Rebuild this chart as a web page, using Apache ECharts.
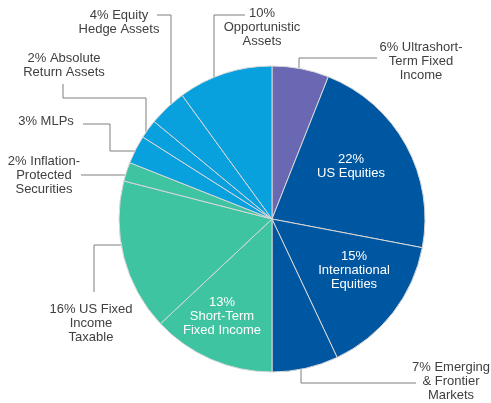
<!DOCTYPE html>
<html>
<head>
<meta charset="utf-8">
<script src="https://cdn.jsdelivr.net/npm/echarts@6/dist/echarts.min.js"></script>
<style>
  html, body { margin: 0; padding: 0; background: #fff; }
  #chart { width: 491px; height: 403px; }
</style>
</head>
<body>
<div id="chart"></div>
<script>
// slices, clockwise from 12 o'clock
var labels = [
    '6% Ultrashort-\nTerm Fixed\nIncome',
    '22%\nUS Equities',
    '15%\nInternational\nEquities',
    '7% Emerging\n& Frontier\nMarkets',
    '13%\nShort-Term\nFixed Income',
    '16% US Fixed\nIncome\nTaxable',
    '2% Inflation-\nProtected\nSecurities',
    '3% MLPs',
    '2% Absolute\nReturn Assets',
    '4% Equity\nHedge Assets',
    '10%\nOpportunistic\nAssets'
];
var values = [6, 22, 15, 7, 13, 16, 2, 3, 2, 4, 10];
var colors = ['#6a68b3', '#0057a1', '#0057a1', '#0057a1', '#3ec4a0', '#3ec4a0',
    '#3ec4a0', '#09a0de', '#09a0de', '#09a0de', '#09a0de'];
var inside = [false, true, true, false, true, false, false, false, false, false, false];

var cx = 272, cy = 219, R = 153;

// where the labels sit
var labelPos = [[421, 61], [351, 166], [354, 270], [451, 381], [222, 316], [91, 323],
    [44, 175], [46, 121], [64, 65], [119, 22], [262, 27]];

function edgeX(x, dir) { return [x, cy + dir * Math.sqrt(R * R - (x - cx) * (x - cx))]; }
function edgeY(y, dir) { return [cx + dir * Math.sqrt(R * R - (y - cy) * (y - cy)), y]; }

// elbow leader lines
var routes = {
    0: [[377, 58], [299, 58], edgeX(299, -1)],
    3: [[416, 383], [301, 383], edgeX(301, 1)],
    5: [[94, 292], [94, 245], edgeY(245, -1)],
    6: [[81, 175], edgeY(175, -1)],
    7: [[83, 124], [110, 124], [110, 151], edgeY(151, -1)],
    8: [[63, 84], [63, 98], [146, 98], edgeX(146, -1)],
    9: [[157, 15], [171, 15], edgeX(171, -1)],
    10: [[245, 15], [214, 15], edgeX(214, -1)]
};

var chartDom = document.getElementById('chart');
var myChart = echarts.init(chartDom);

var data = values.map(function (v, i) {
    return {
        value: v,
        name: labels[i],
        itemStyle: { color: colors[i] },
        label: { color: inside[i] ? '#ffffff' : '#404040' },
        labelLine: { show: !inside[i] }
    };
});

var option = {
    animation: false,
    series: [{
        type: 'pie',
        center: [cx, cy],
        radius: R,
        startAngle: 90,
        clockwise: true,
        avoidLabelOverlap: false,
        itemStyle: { borderColor: '#d8d8d8', borderWidth: 1 },
        label: {
            formatter: '{b}',
            fontFamily: 'Liberation Sans',
            fontSize: 13,
            lineHeight: 14,
            align: 'center'
        },
        labelLine: {
            lineStyle: { color: '#7f7f7f', width: 1 }
        },
        labelLayout: function (p) {
            var i = p.dataIndex;
            var res = {
                x: labelPos[i][0],
                y: labelPos[i][1],
                align: 'center',
                verticalAlign: 'middle'
            };
            if (routes[i]) res.labelLinePoints = routes[i];
            return res;
        },
        data: data
    }]
};

option && myChart.setOption(option);
</script>
</body>
</html>
